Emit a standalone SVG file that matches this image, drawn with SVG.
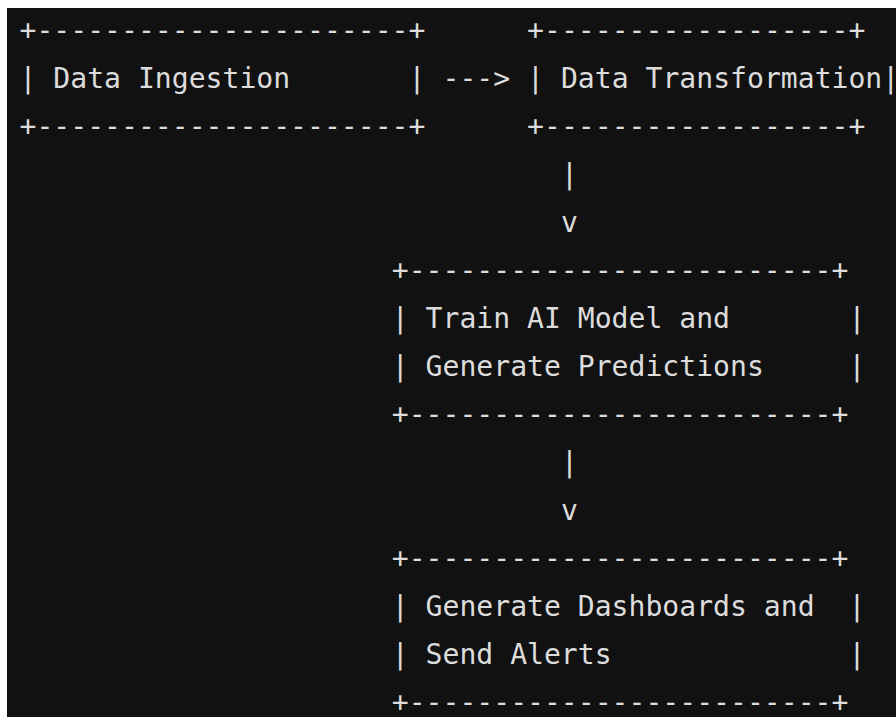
<svg xmlns="http://www.w3.org/2000/svg" width="896" height="717" viewBox="0 0 896 717">
<style>
text{font-family:"DejaVu Sans Mono","Liberation Mono",monospace;font-size:28.1px;fill:#dcdcdc;white-space:pre}
</style>
<rect x="0" y="0" width="896" height="717" fill="#ffffff"/>
<rect x="7" y="8" width="889" height="709" fill="#111111"/>
<g id="connectors">
<text x="442.5" y="88" xml:space="preserve">---&gt;</text>
<text x="560.94" y="184" xml:space="preserve">|</text>
<text x="560.94" y="232" xml:space="preserve">v</text>
<text x="560.94" y="472" xml:space="preserve">|</text>
<text x="560.94" y="520" xml:space="preserve">v</text>
</g>
<g id="node-ingestion">
<text x="19.5" y="40" xml:space="preserve">+----------------------+</text>
<text x="19.5" y="88" xml:space="preserve">| Data Ingestion       |</text>
<text x="19.5" y="136" xml:space="preserve">+----------------------+</text>
</g>
<g id="node-transformation">
<text x="527.1" y="40" xml:space="preserve">+------------------+</text>
<text x="527.1" y="88" xml:space="preserve">| Data Transformation|</text>
<text x="527.1" y="136" xml:space="preserve">+------------------+</text>
</g>
<g id="node-train">
<text x="391.74" y="280" xml:space="preserve">+-------------------------+</text>
<text x="391.74" y="328" xml:space="preserve">| Train AI Model and       |</text>
<text x="391.74" y="376" xml:space="preserve">| Generate Predictions     |</text>
<text x="391.74" y="424" xml:space="preserve">+-------------------------+</text>
</g>
<g id="node-dashboards">
<text x="391.74" y="568" xml:space="preserve">+-------------------------+</text>
<text x="391.74" y="616" xml:space="preserve">| Generate Dashboards and  |</text>
<text x="391.74" y="664" xml:space="preserve">| Send Alerts              |</text>
<text x="391.74" y="712" xml:space="preserve">+-------------------------+</text>
</g>
</svg>
